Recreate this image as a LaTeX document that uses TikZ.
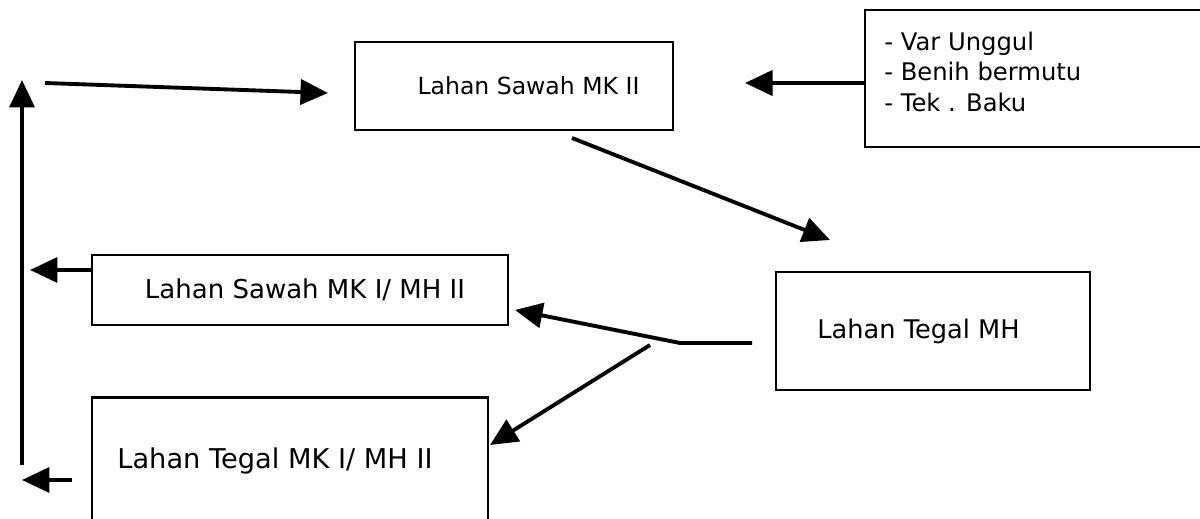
\documentclass[tikz,border=0pt]{standalone}
\usepackage{fontspec}
\setmainfont{DejaVu Sans}
\usetikzlibrary{arrows.meta}
\begin{document}
\begin{tikzpicture}[x=0.02cm,y=-0.02cm,
  box/.style={draw, line width=1.4pt, inner sep=0pt},
  arr/.style={line width=2.2pt, -{Triangle[length=0.55cm,width=0.5cm]}}]
\useasboundingbox (0,0) rectangle (1200,519);
% boxes
\node[box, minimum width=6.36cm, minimum height=1.76cm] (A) at (514,86)
  {\hspace*{0.58cm}\fontsize{13.4}{16}\selectfont Lahan Sawah MK II};
\node[box, minimum width=6.74cm, minimum height=2.74cm] (V) at (1033.5,78.5) {};
\node[anchor=north west, align=left, inner sep=0pt,
  font=\fontsize{13.8}{17.2}\selectfont] (Vt) at (884,32)
  {- Var Unggul\\- Benih bermutu\\- Tek . Baku};
\node[box, minimum width=8.32cm, minimum height=1.4cm] (B) at (300,290)
  {\hspace*{0.2cm}\fontsize{14.8}{17}\selectfont Lahan Sawah MK I/ MH II};
\node[box, minimum width=6.28cm, minimum height=2.36cm] (T) at (933,331)
  {\hspace*{-0.58cm}\fontsize{14.6}{17}\selectfont Lahan Tegal MH};
\node[box, minimum width=7.92cm, minimum height=2.54cm] (C) at (290,461)
  {\hspace*{-0.6cm}\fontsize{15.5}{18}\selectfont Lahan Tegal MK I/ MH II};
% free ends
\coordinate (topS) at (45,83);
\coordinate (topE) at (328,93);
\coordinate (vS) at (22,465);
\coordinate (vE) at (22,80);
\coordinate (bl) at (30,270);
\coordinate (cS) at (72,480);
\coordinate (cE) at (22,480);
\coordinate (aS) at (572,138);
\coordinate (tE) at (830,240);
\coordinate (tS) at (752,343);
\coordinate (kink) at (680,343);
\coordinate (bE) at (515,310);
\coordinate (brS) at (650,345);
\coordinate (cIn) at (490,445);
\coordinate (vIn) at (745,83);
% connectors
\draw[arr] (topS) -- (topE);
\draw[arr] (vS) -- (vE);
\draw[arr] (B.west |- bl) -- (bl);
\draw[arr] (cS) -- (cE);
\draw[arr] (V.west |- vIn) -- (vIn);
\draw[arr] (aS) -- (tE);
\draw[arr] (tS) -- (kink) -- (bE);
\draw[arr] (brS) -- (cIn);
\end{tikzpicture}
\end{document}
